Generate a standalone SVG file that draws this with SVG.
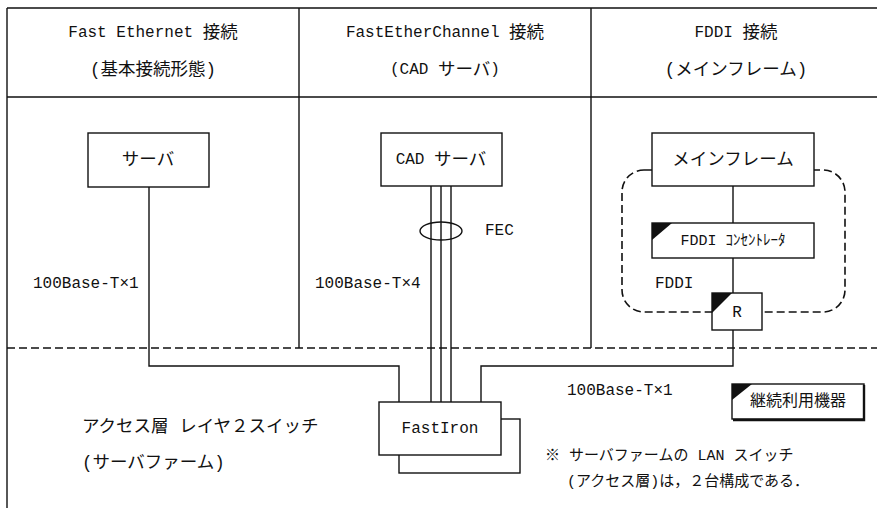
<svg xmlns="http://www.w3.org/2000/svg" width="877" height="508" viewBox="0 0 877 508">
<style>
text{font-family:"Liberation Mono","Noto Sans CJK JP",monospace;font-size:17.5px;fill:#111;text-anchor:middle;dominant-baseline:central}
.l{text-anchor:start}
.m{font-size:16px}
.s{font-size:15px}
.box{fill:#fff;stroke:#111;stroke-width:1.4}
.ln{fill:none;stroke:#111;stroke-width:1.4}
.dash{fill:none;stroke:#111;stroke-width:1.6;stroke-dasharray:8 4}
.tri{fill:#111}
</style>
<rect width="877" height="508" fill="#fff"/>
<g id="frame">
<path class="ln" d="M7,8 H877 M7,8 V508 M299,8 V348 M591,8 V348 M7,97 H877"/>
<path class="dash" d="M7,348 H877"/>
</g>
<g id="headers">
<text x="153" y="33"><tspan class="m">Fast Ethernet </tspan>接続</text>
<text x="153" y="70">(基本接続形態)</text>
<text x="445" y="33"><tspan class="m">FastEtherChannel </tspan>接続</text>
<text x="445" y="70"><tspan class="m">(CAD </tspan>サーバ<tspan class="m">)</tspan></text>
<text x="736" y="33"><tspan class="m">FDDI </tspan>接続</text>
<text x="736" y="70">(メインフレーム)</text>
</g>
<g id="fddi-ring">
<rect class="dash" x="622" y="170" width="223" height="142" rx="22" ry="22"/>
</g>
<g id="connectors">
<path class="ln" d="M149,187 V366 H399 V402"/>
<path class="ln" d="M431,186 V402 M441,186 V402 M451,186 V402"/>
<ellipse class="ln" cx="441" cy="231" rx="21" ry="9"/>
<path class="ln" d="M733,186 V223 M733,258 V293"/>
<path class="ln" d="M733,330 V366 H481 V402"/>
</g>
<g id="server">
<rect class="box" x="88" y="133" width="121" height="54"/>
<text x="148" y="160">サーバ</text>
</g>
<g id="cad-server">
<rect class="box" x="381" y="133" width="121" height="53"/>
<text x="441" y="160"><tspan class="m">CAD </tspan>サーバ</text>
</g>
<g id="mainframe">
<rect class="box" x="652" y="133" width="162" height="53"/>
<text x="733" y="160">メインフレーム</text>
</g>
<g id="concentrator">
<rect class="box" x="652" y="223" width="162" height="35"/>
<path class="tri" d="M652,223 h20 l-20,17 z"/>
<text class="s" x="733" y="241">FDDI ｺﾝｾﾝﾄﾚｰﾀ</text>
</g>
<g id="router">
<rect class="box" x="712" y="293" width="50" height="37"/>
<path class="tri" d="M712,293 h20 l-20,20 z"/>
<text class="m" x="737" y="313">R</text>
</g>
<g id="fastiron">
<rect class="box" x="399" y="419" width="121" height="54"/>
<rect class="box" x="379" y="402" width="122" height="53"/>
<text class="m" x="440" y="429">FastIron</text>
</g>
<g id="legend">
<rect class="box" x="732" y="384" width="132" height="35"/>
<path class="ln" d="M864,385 V420 H733" style="stroke-width:2.4"/>
<path class="tri" d="M732,384 h20 l-20,16 z"/>
<text x="798" y="402" style="font-size:16px">継続利用機器</text>
</g>
<g id="labels">
<text class="l m" x="33" y="284">100Base-T×1</text>
<text class="l m" x="315" y="284">100Base-T×4</text>
<text class="l m" x="485" y="231">FEC</text>
<text class="l m" x="655" y="284">FDDI</text>
<text class="l m" x="567" y="391">100Base-T×1</text>
<text class="l" x="82" y="427">アクセス層 レイヤ２スイッチ</text>
<text class="l" x="82" y="463">(サーバファーム)</text>
<text class="l s" x="545" y="456">※ サーバファームの LAN スイッチ</text>
<text class="l s" x="567" y="482">(アクセス層)は，２台構成である．</text>
</g>
</svg>
